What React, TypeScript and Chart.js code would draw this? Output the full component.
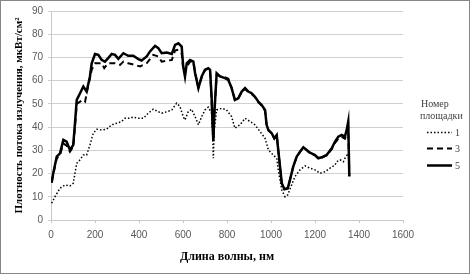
import React, { useEffect, useRef } from "react";
import { Chart, registerables } from "chart.js";

Chart.register(...registerables);

// Series "1" (dotted)
const x1 = [3,18,41,64,86,101,117,132,147,162,177,192,208,230,253,276,299,321,336,359,374,397,420,442,465,488,503,526,549,571,586,601,609,624,639,655,670,685,700,715,730,734,738,742,753,776,798,821,836,859,882,905,927,950,973,988,1010,1026,1033,1049,1064,1076,1091,1109,1132,1155,1177,1200,1223,1245,1268,1291,1298,1314,1329,1336,1351,1356];
const y1 = [7.2,10,13.7,15.1,14.7,15.8,24.4,25.9,28,28,32.3,37.4,39.1,38.8,39.1,41,41.7,42.4,43.8,43.8,44.3,43.8,43.8,46,47.7,46.6,46,46.6,47.4,50.3,48.9,44.5,43.1,46.7,47.7,44.5,41,44.5,47.4,48.6,46,38.8,26.6,38.8,47.4,48.1,47.4,44.5,39.5,41,43.8,42.4,41,38.1,35.2,30.2,28,26.6,21.6,12.9,10,10.8,14.4,18.7,21.6,23.3,22.3,21.6,20.1,20.8,22.3,23.7,25.1,25.9,25.1,26.6,28.7,27];

// Series "3" (dashed)
const x3 = [3,10,26,41,56,71,86,101,109,117,132,147,155,165,177,185,200,215,230,242,260,276,291,314,329,351,374,405,435,465,488,503,526,549,564,579,594,601,609,617,632,647,655,670,685,700,715,723,730,734,738,742,753,768,783,806,821,836,851,867,882,897,912,927,942,957,973,980,988,1003,1015,1026,1033,1041,1049,1061,1076,1086,1101,1117,1132,1147,1162,1177,1200,1215,1230,1253,1276,1291,1306,1321,1336,1344,1351,1356];
const y3 = [16.5,19.5,26.5,28,33,32,29.4,31.5,40,50,51,51.7,51,56,61,64.7,67.5,67.5,67.5,65.4,67.5,67.5,67.5,66.8,68.2,67.5,67,66.1,67.5,71.1,70.4,68.2,68.6,68.9,73,73.3,71.8,65,63.2,66,68.2,68.2,63.5,57,61.5,64.5,65.2,64.5,52,42,35,45,62.5,62,61.8,60.8,57,51.5,52.4,55,56.5,55,54.3,53,50.8,49.3,47,41,38.6,37.2,35,36.4,30,23,15.8,13.4,13.8,17.2,23,27.3,29.4,31.2,30,28.8,27.8,26.5,26.8,27.8,30.5,33.2,35,35.8,35,37,39.5,19];

// Series "5" (solid)
const x5 = [3,10,26,41,56,71,86,101,109,117,132,147,162,177,185,200,215,230,245,260,276,291,306,329,351,374,397,412,435,450,473,488,503,526,549,564,579,594,601,609,617,632,647,655,670,685,700,715,723,730,734,738,742,753,768,791,806,821,836,851,867,882,897,912,927,942,957,973,980,988,1003,1015,1026,1033,1041,1049,1061,1076,1086,1101,1117,1132,1147,1162,1177,1200,1215,1230,1253,1276,1291,1306,1321,1336,1344,1351,1356];
const y5 = [16,20,27.3,28.7,34.5,33.7,30.2,32.3,41.7,51.7,54.6,57.5,55.3,61.8,67.5,71.5,71.1,69,68.2,69.7,71.5,71.1,69.4,71.8,70.7,70.7,69.3,68.7,70.4,72.6,75,74,71.8,72.1,71.5,75.4,76.1,74.7,66.1,61.8,67.5,68.9,68.2,63.2,56.8,61.8,64.7,65.4,64.7,53,42,34,45,63.2,61.8,61.1,60.3,56.8,51.7,52.4,55.3,56.8,55.3,54.6,53.1,51,49.6,47.4,41,38.8,37.4,35.2,36.6,30.2,23,15.8,13.2,13.6,17.2,23,27.3,29.4,31.3,30.2,29,28,26.6,27,28,30.9,33.7,35.9,36.6,35.9,38.8,42.4,18.7];

const seriesLabels = ["1", "3", "5"];
const legendTitle = ["Номер", "площадки"];
const xTitle = "Длина волны, нм";
const yTitle = "Плотность потока излучения, мкВт/см²";

const toPts = (xs: number[], ys: number[]) => xs.map((x, i) => ({ x, y: ys[i] }));

const frameAndLegend = {
  id: "frameAndLegend",
  afterDraw(chart: any) {
    const ctx = chart.ctx;
    ctx.save();
    ctx.strokeStyle = "#868686";
    ctx.lineWidth = 1;
    ctx.setLineDash([]);
    ctx.strokeRect(0.5, 0.5, 469, 273);

    ctx.fillStyle = "#404040";
    ctx.font = "10px 'Liberation Serif'";
    ctx.textBaseline = "alphabetic";
    ctx.textAlign = "left";
    ctx.fillText(legendTitle[0], 421, 107);
    ctx.fillText(legendTitle[1], 420, 119);

    const ys = [132, 148, 165];
    chart.data.datasets.forEach((ds: any, i: number) => {
      ctx.beginPath();
      ctx.strokeStyle = ds.borderColor;
      ctx.lineWidth = ds.borderWidth;
      ctx.setLineDash(ds.borderDash || []);
      ctx.moveTo(427, ys[i] + 0.5);
      ctx.lineTo(452, ys[i] + 0.5);
      ctx.stroke();
      ctx.setLineDash([]);
      ctx.fillStyle = "#404040";
      ctx.textBaseline = "middle";
      ctx.fillText(ds.label, 455, ys[i] + 1);
    });
    ctx.restore();
  },
};

export default function App() {
  const ref = useRef<HTMLCanvasElement | null>(null);
  useEffect(() => {
    if (!ref.current) return;
    const chart = new Chart(ref.current, {
      type: "line",
      data: {
        datasets: [
          {
            label: seriesLabels[0],
            data: toPts(x1, y1),
            borderColor: "#000000",
            borderWidth: 1.5,
            borderDash: [1.5, 2],
            pointRadius: 0,
            tension: 0,
          },
          {
            label: seriesLabels[1],
            data: toPts(x3, y3),
            borderColor: "#000000",
            borderWidth: 2,
            borderDash: [6, 4],
            pointRadius: 0,
            tension: 0,
          },
          {
            label: seriesLabels[2],
            data: toPts(x5, y5),
            borderColor: "#000000",
            borderWidth: 2.5,
            pointRadius: 0,
            tension: 0,
          },
        ],
      },
      options: {
        animation: false,
        responsive: false,
        maintainAspectRatio: false,
        layout: { padding: { top: 11, right: 68, left: 0, bottom: 0 } },
        plugins: { legend: { display: false }, tooltip: { enabled: false } },
        scales: {
          x: {
            type: "linear",
            min: 0,
            max: 1600,
            afterFit: (s: any) => { s.height = 56; },
            ticks: {
              stepSize: 200,
              padding: 6,
              color: "#595959",
              font: { family: "'Liberation Sans'", size: 10 },
              callback: (v: any) => String(v),
            },
            grid: { drawOnChartArea: false, tickLength: 3, color: "#c8c8c8" },
            border: { color: "#c8c8c8" },
            title: {
              display: true,
              text: xTitle,
              color: "#000000",
              font: { family: "'Liberation Serif'", size: 12, weight: "bold" },
              padding: { top: 0, bottom: 12 },
            },
          },
          y: {
            min: 0,
            max: 90,
            afterFit: (s: any) => { s.width = 51; },
            ticks: {
              stepSize: 10,
              padding: 5,
              color: "#595959",
              font: { family: "'Liberation Sans'", size: 10 },
              callback: (v: any) => String(v),
            },
            grid: { color: "#d0d0d0", tickLength: 3 },
            border: { color: "#c8c8c8" },
            title: {
              display: true,
              text: yTitle,
              color: "#000000",
              font: { family: "'Liberation Serif'", size: 11, weight: "bold" },
              padding: { top: 13, bottom: 0 },
            },
          },
        },
      },
      plugins: [frameAndLegend],
    });
    return () => chart.destroy();
  }, []);
  return (
    <div style={{ position: "fixed", left: 0, top: 0, width: 471, height: 276, background: "#fff" }}>
      <canvas ref={ref} width={471} height={276} style={{ display: "block", width: 471, height: 276 }} />
    </div>
  );
}
